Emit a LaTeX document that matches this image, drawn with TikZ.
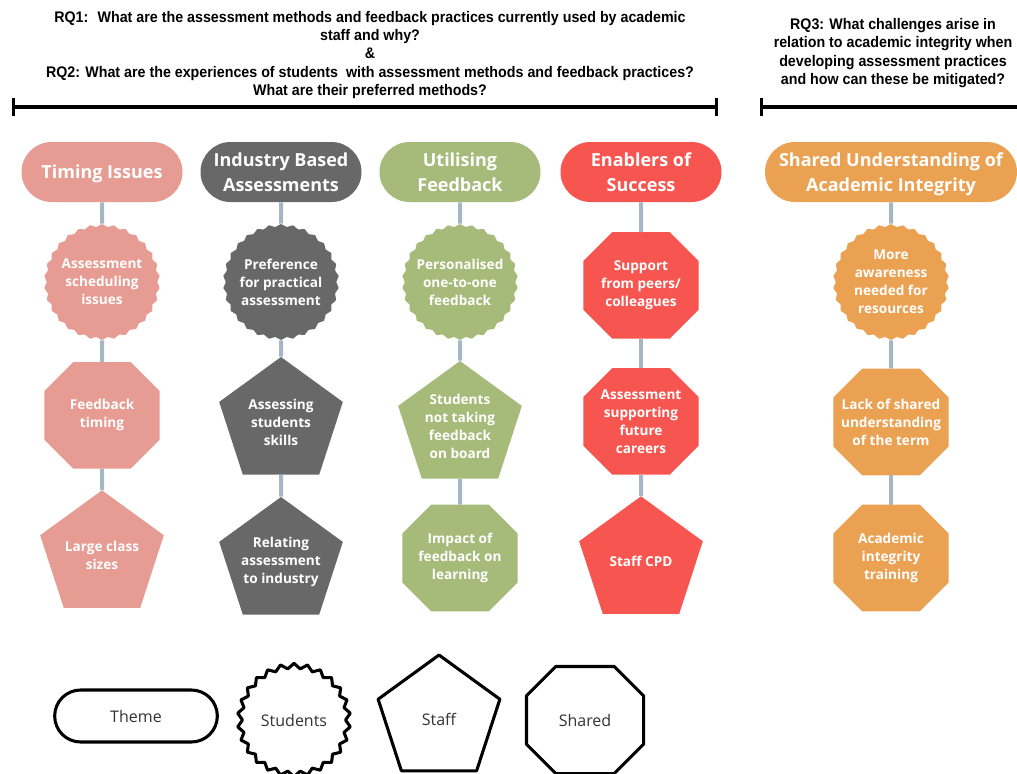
\documentclass[tikz,border=0pt]{standalone}
\usepackage{fontspec}
\setmainfont{Open Sans}
\newfontfamily\headfont[FakeStretch=0.93]{Liberation Sans}
\usepackage{tikz}
\usetikzlibrary{shapes.geometric, shapes.misc, arrows.meta, positioning}
\definecolor{timingpink}{HTML}{E69C92}
\definecolor{industrygray}{HTML}{686868}
\definecolor{utilisegreen}{HTML}{A6BA79}
\definecolor{enablered}{HTML}{F65550}
\definecolor{integrityorange}{HTML}{EBA152}
\definecolor{linkgray}{HTML}{A5B7C5}
% octagon with flat sides, cut corners a quarter of the width
\newdimen\octxa \newdimen\octya \newdimen\octxb \newdimen\octyb \newdimen\octcut
\makeatletter
\pgfdeclareshape{octagonbox}{%
  \inheritsavedanchors[from=rectangle]%
  \inheritanchorborder[from=rectangle]%
  \inheritanchor[from=rectangle]{center}%
  \inheritanchor[from=rectangle]{north}%
  \inheritanchor[from=rectangle]{south}%
  \inheritanchor[from=rectangle]{east}%
  \inheritanchor[from=rectangle]{west}%
  \inheritanchor[from=rectangle]{text}%
  \inheritanchor[from=rectangle]{base}%
  \backgroundpath{%
    \southwest \octxa=\pgf@x \octya=\pgf@y
    \northeast \octxb=\pgf@x \octyb=\pgf@y
    \octcut=\octxb \advance\octcut by -\octxa \octcut=0.25\octcut
    \pgfpathmoveto{\pgfpoint{\octxa+\octcut}{\octya}}%
    \pgfpathlineto{\pgfpoint{\octxb-\octcut}{\octya}}%
    \pgfpathlineto{\pgfpoint{\octxb}{\octya+\octcut}}%
    \pgfpathlineto{\pgfpoint{\octxb}{\octyb-\octcut}}%
    \pgfpathlineto{\pgfpoint{\octxb-\octcut}{\octyb}}%
    \pgfpathlineto{\pgfpoint{\octxa+\octcut}{\octyb}}%
    \pgfpathlineto{\pgfpoint{\octxa}{\octyb-\octcut}}%
    \pgfpathlineto{\pgfpoint{\octxa}{\octya+\octcut}}%
    \pgfpathclose
  }%
}
\makeatother
\tikzset{
  head/.style={align=center, font=\headfont\fontsize{11.5}{13.7}\selectfont\bfseries},
  theme/.style={rounded rectangle, minimum width=120.75pt, minimum height=45pt, inner sep=0pt, text depth=0pt, align=center, text=white, font=\fontsize{13.5}{18.5}\selectfont\bfseries},
  student/.style={star, star points=30, star point ratio=1.05, minimum size=87pt, inner sep=-14pt, align=center, text=white, font=\fontsize{10.2}{13.5}\selectfont\bfseries},
  staff/.style={regular polygon, regular polygon sides=5, minimum size=97.5pt, inner sep=-14pt, align=center, text=white, font=\fontsize{10.2}{13.5}\selectfont\bfseries},
  shared/.style={octagonbox, minimum width=86pt, minimum height=79.5pt, inner sep=0pt, align=center, text=white, font=\fontsize{10.2}{13.5}\selectfont\bfseries},
  key/.style={draw=black, line width=2.3pt, line join=round, fill=white, text=black!80, font=\fontsize{12}{14}\selectfont},
  link/.style={draw=linkgray, line width=3pt},
  bar/.style={line width=2.6pt, {Bar[width=13.5pt]}-{Bar[width=13.5pt]}}
}
\begin{document}
\begin{tikzpicture}[x=0.75pt, y=-0.75pt, node distance=105pt]
\useasboundingbox (0,0) rectangle (1017,774);
% Questions
\node (rq12) [head] at (370,55) {RQ1:~ What are the assessment methods and feedback practices currently used by academic\\ staff and why?\\ \&\\ RQ2: What are the experiences of students~ with assessment methods and feedback practices?\\ What are their preferred methods?};
\node (rq3) [head] at (893,53) {RQ3: What challenges arise in\\ relation to academic integrity when\\ developing assessment practices\\ and how can these be mitigated?};
\coordinate (bar1start) at (12,107);
\coordinate (bar1end) at (718,107);
\coordinate (bar2start) at (760,107);
\coordinate (bar2end) at (1017,107);
\draw [bar] (bar1start) -- (bar1end);
\draw [line width=2.6pt, {Bar[width=13.5pt]}-] (bar2start) -- (bar2end);

% Themes
\node (timing) [theme, fill=timingpink] at (102,172) {Timing Issues};
\node (industry) [theme, fill=industrygray] at (281,172) {Industry Based\\Assessments};
\node (utilise) [theme, fill=utilisegreen] at (460,172) {Utilising\\Feedback};
\node (enable) [theme, fill=enablered] at (641,172) {Enablers of\\Success};
\node (integrity) [theme, fill=integrityorange, minimum width=189pt] at (891,172) {Shared Understanding of\\Academic Integrity};

% Timing Issues
\node (sched) [student, fill=timingpink, below of=timing, yshift=22.5pt] {Assessment\\scheduling\\issues};
\node (fbtiming) [shared, fill=timingpink, below of=sched, yshift=5pt] {Feedback\\timing};
\node (classsize) [staff, fill=timingpink, below of=fbtiming] {Large class\\sizes};

% Industry Based Assessments
\node (practical) [student, fill=industrygray, below of=industry, yshift=22.5pt] {Preference\\for practical\\assessment};
\node (skills) [staff, fill=industrygray, below of=practical] {Assessing\\students\\skills};
\node (relating) [staff, fill=industrygray, below of=skills] {Relating\\assessment\\to industry};

% Utilising Feedback
\node (oneone) [student, fill=utilisegreen, below of=utilise, yshift=22.5pt] {Personalised\\one-to-one\\feedback};
\node (onboard) [staff, fill=utilisegreen, below of=oneone, yshift=-3pt] {Students\\not taking\\feedback\\on board};
\node (impact) [shared, fill=utilisegreen, below of=onboard, yshift=6pt] {Impact of\\feedback on\\learning};

% Enablers of Success
\node (peers) [shared, fill=enablered, below of=enable, yshift=20pt] {Support\\from peers/\\colleagues};
\node (careers) [shared, fill=enablered, below of=peers, yshift=3pt] {Assessment\\supporting\\future\\careers};
\node (cpd) [staff, fill=enablered, below of=careers] {Staff CPD};

% Shared Understanding of Academic Integrity
\node (awareness) [student, fill=integrityorange, below of=integrity, yshift=22.5pt] {More\\awareness\\needed for\\resources};
\node (term) [shared, fill=integrityorange, below of=awareness] {Lack of shared\\understanding\\of the term};
\node (training) [shared, fill=integrityorange, below of=term, yshift=3pt] {Academic\\integrity\\training};

% Links
\foreach \a/\b in {timing/sched, sched/fbtiming, fbtiming/classsize,
                   industry/practical, practical/skills, skills/relating,
                   utilise/oneone, oneone/onboard, onboard/impact,
                   enable/peers, peers/careers, careers/cpd,
                   integrity/awareness, awareness/term, term/training}
  \draw [link] (\a) -- (\b);

% Key
\node (keytheme) [theme, key, minimum width=122pt, minimum height=39pt] at (136,716) {Theme};
\node (keystudent) [student, key, star points=26, star point ratio=1.1, minimum size=85pt] at (294,720) {Students};
\node (keystaff) [staff, key, minimum size=96pt] at (439,719) {Staff};
\node (keyshared) [shared, key, minimum width=85.5pt, minimum height=78pt] at (585,720) {Shared};
\end{tikzpicture}
\end{document}
